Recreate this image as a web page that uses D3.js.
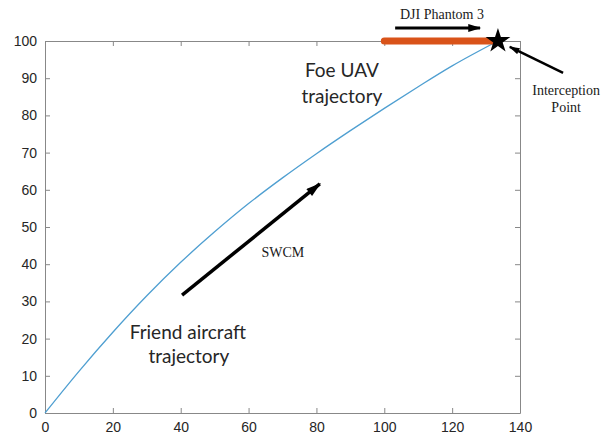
<!DOCTYPE html>
<html><head><meta charset="utf-8">
<script src="https://cdn.jsdelivr.net/npm/d3@7"></script>
<style>body{margin:0;background:#fff}svg{display:block}</style>
</head><body>
<script>
const xTicks = [0,20,40,60,80,100,120,140];
const yTicks = [0,10,20,30,40,50,60,70,80,90,100];
const friendX = [0, 10, 20, 30, 40, 50, 60, 70, 80, 90, 100, 110, 120, 133.5];
const friendY = [0, 11.2, 21.7, 31.5, 40.5, 48.7, 56.3, 63.2, 69.7, 75.9, 81.9, 87.7, 93.3, 100];
const foeX = [100, 133.5];
const foeY = [100, 100];
const interceptX = [133.5];
const interceptY = [100];

const W = 611, H = 438;
const m = {l:45, r:91, t:41, b:25};
const svg = d3.select("body").append("svg").attr("width",W).attr("height",H);
const x = d3.scaleLinear().domain([0,140]).range([m.l, W-m.r]);
const y = d3.scaleLinear().domain([0,100]).range([H-m.b, m.t]);
const axisCol = "#888", textCol = "#262626";

// axes
const ax = [
  {g: d3.axisBottom(x).tickValues(xTicks).tickSizeInner(-5).tickSizeOuter(0).tickPadding(9), t:`translate(0,${y(0)})`},
  {g: d3.axisTop(x).tickValues(xTicks).tickSizeInner(-5).tickSizeOuter(0).tickFormat(""), t:`translate(0,${y(100)})`},
  {g: d3.axisLeft(y).tickValues(yTicks).tickSizeInner(-5).tickSizeOuter(0).tickPadding(8), t:`translate(${x(0)},0)`},
  {g: d3.axisRight(y).tickValues(yTicks).tickSizeInner(-5).tickSizeOuter(0).tickFormat(""), t:`translate(${x(140)},0)`}
];
ax.forEach(a => {
  const g = svg.append("g").attr("transform", a.t).call(a.g);
  g.select(".domain").attr("stroke", axisCol);
  g.selectAll(".tick line").attr("stroke", axisCol);
  g.selectAll("text").attr("fill", textCol).style("font-family","'Liberation Sans', Arial, sans-serif").style("font-size","14px");
});

// friend trajectory
const pts = friendX.map((v,i)=>[v, friendY[i]]);
svg.append("path").datum(pts)
  .attr("fill","none").attr("stroke","#4f9fd1").attr("stroke-width",1.3)
  .attr("d", d3.line().x(d=>x(d[0])).y(d=>y(d[1])).curve(d3.curveMonotoneX));

// foe trajectory
svg.append("path").datum(foeX.map((v,i)=>[v, foeY[i]]))
  .attr("fill","none").attr("stroke","#D95319").attr("stroke-width",7).attr("stroke-linecap","round")
  .attr("d", d3.line().x(d=>x(d[0])).y(d=>y(d[1])));

// interception star
svg.selectAll(".star").data(interceptX.map((v,i)=>[v, interceptY[i]])).enter().append("path")
  .attr("transform", d=>`translate(${x(d[0])},${y(d[1])})`)
  .attr("d", d3.symbol().type(d3.symbolStar).size(190)())
  .attr("fill","#000");

// annotations
const defs = svg.append("defs");
defs.append("marker").attr("id","ah").attr("viewBox","0 0 10 6").attr("refX",9).attr("refY",3)
  .attr("markerWidth",4.5).attr("markerHeight",2.6).attr("orient","auto").attr("markerUnits","strokeWidth")
  .append("path").attr("d","M0,0 L10,3 L0,6 Z").attr("fill","#000");

const arrows = [
  {x1:103.2, y1:103.5, x2:128.2, y2:103.5, w:3},
  {x1:152.7, y1:91.4, x2:137.0, y2:98.4, w:2.5},
  {x1:40.4, y1:31.7, x2:81.0, y2:61.6, w:3.5}
];
arrows.forEach(a => svg.append("line")
  .attr("x1",x(a.x1)).attr("y1",y(a.y1)).attr("x2",x(a.x2)).attr("y2",y(a.y2))
  .attr("stroke","#000").attr("stroke-width",a.w).attr("marker-end","url(#ah)"));

const labels = [
  {t:"DJI Phantom 3", x:117, y:107.2, f:"serif", s:14},
  {t:"Interception", x:153.6, y:86.8, f:"serif", s:14},
  {t:"Point", x:153.6, y:82.3, f:"serif", s:14},
  {t:"SWCM", x:70.1, y:43.3, f:"serif", s:14},
  {t:"Foe UAV", x:87.5, y:92.2, f:"sans", s:19},
  {t:"trajectory", x:87.5, y:85.2, f:"sans", s:19},
  {t:"Friend aircraft", x:42.1, y:21.8, f:"sans", s:19},
  {t:"trajectory", x:42.4, y:15.1, f:"sans", s:19}
];
labels.forEach(l => svg.append("text")
  .attr("x", x(l.x)).attr("y", y(l.y)).attr("dy","0.35em").attr("text-anchor","middle")
  .style("font-family", l.f==="serif" ? "'Liberation Serif','Times New Roman',serif" : "Lato, 'Open Sans', sans-serif")
  .style("font-size", l.s+"px").attr("fill", l.f==="serif" ? "#1a1a1a" : "#262626").text(l.t));
</script>
</body></html>
